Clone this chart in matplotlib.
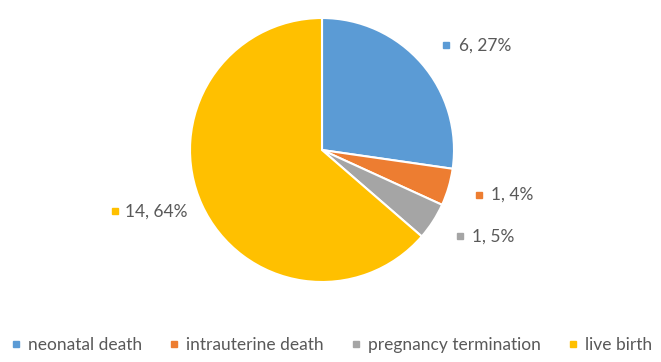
import numpy as np
import matplotlib.pyplot as plt
from matplotlib.lines import Line2D

plt.rcParams['font.family'] = ['Lato', 'DejaVu Sans']

categories = ["neonatal death", "intrauterine death", "pregnancy termination", "live birth"]
counts = [6, 1, 1, 14]
percent_labels = ["27%", "4%", "5%", "64%"]
colors = ["#5B9BD5", "#ED7D31", "#A5A5A5", "#FFC000"]
text_color = "#595959"

fig = plt.figure(figsize=(6.61, 3.62), dpi=100)
W, H = 661, 362
# pie area: center (322,150), radius 132 px
ax = fig.add_axes([190 / W, (H - 282) / H, 264 / W, 264 / H])
wedges, _ = ax.pie(counts, colors=colors, startangle=90, counterclock=False,
                   wedgeprops=dict(edgecolor="white", linewidth=1.5))
ax.set_xlim(-1, 1)
ax.set_ylim(-1, 1)
ax.set_aspect("equal")

# data labels with small colour squares
fs = 12.5
for w, n, p, c in zip(wedges, counts, percent_labels, colors):
    mid = np.deg2rad((w.theta1 + w.theta2) / 2)
    label = f"{n}, {p}"
    if np.cos(mid) >= 0:
        r = 1.21
        x, y = r * np.cos(mid), r * np.sin(mid)
        ax.plot(x + 0.025, y, marker="s", ms=4.5, color=c, clip_on=False)
        ax.annotate(label, (x, y), xytext=(16, 0), textcoords="offset pixels",
                    ha="left", va="center", fontsize=fs, color=text_color,
                    annotation_clip=False)
    else:
        r = 1.12
        x, y = r * np.cos(mid), r * np.sin(mid)
        t = ax.annotate(label, (x, y), xytext=(0, 0), textcoords="offset pixels",
                        ha="right", va="center", fontsize=fs, color=text_color,
                        annotation_clip=False)
        fig.canvas.draw()
        bb = t.get_window_extent()
        px, py = ax.transData.inverted().transform((bb.x0 - 10, 0))
        ax.plot(px, y, marker="s", ms=4.5, color=c, clip_on=False)

handles = [Line2D([], [], marker="s", ls="", color=c, ms=4.5) for c in colors]
fig.legend(handles, categories, loc="center", bbox_to_anchor=(0.5, (H - 345) / H),
           ncol=4, frameon=False, fontsize=fs, labelcolor=text_color,
           handletextpad=0.3, columnspacing=1.45, handlelength=0.8)

fig.savefig("out.png", dpi=100)
